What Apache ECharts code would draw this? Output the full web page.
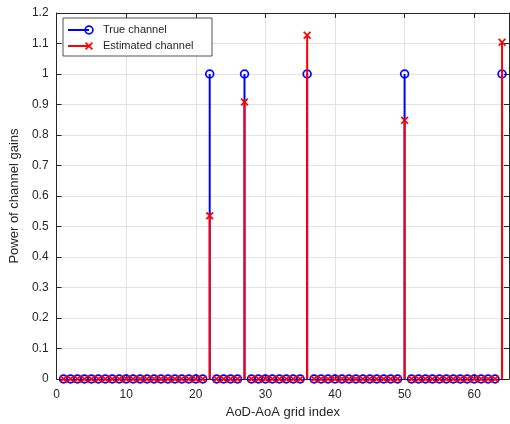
<!DOCTYPE html>
<html>
<head>
<meta charset="utf-8">
<script src="https://cdn.jsdelivr.net/npm/echarts@6/dist/echarts.min.js"></script>
<style>
html, body { margin: 0; padding: 0; background: #fff; }
#chart { width: 510px; height: 424px; }
</style>
</head>
<body>
<div id="chart"></div>
<script>
// stem plot: true vs estimated channel gains

var gridIndex = [1, 2, 3, 4, 5, 6, 7, 8, 9, 10, 11, 12, 13, 14, 15, 16,
    17, 18, 19, 20, 21, 22, 23, 24, 25, 26, 27, 28, 29, 30, 31, 32,
    33, 34, 35, 36, 37, 38, 39, 40, 41, 42, 43, 44, 45, 46, 47, 48,
    49, 50, 51, 52, 53, 54, 55, 56, 57, 58, 59, 60, 61, 62, 63, 64];

var trueGain = [0, 0, 0, 0, 0, 0, 0, 0, 0, 0, 0, 0, 0, 0, 0, 0,
    0, 0, 0, 0, 0, 1, 0, 0, 0, 0, 1, 0, 0, 0, 0, 0,
    0, 0, 0, 1, 0, 0, 0, 0, 0, 0, 0, 0, 0, 0, 0, 0,
    0, 1, 0, 0, 0, 0, 0, 0, 0, 0, 0, 0, 0, 0, 0, 1];

var estGain = [0, 0, 0, 0, 0, 0, 0, 0, 0, 0, 0, 0, 0, 0, 0, 0,
    0, 0, 0, 0, 0, 0.535, 0, 0, 0, 0, 0.908, 0, 0, 0, 0, 0,
    0, 0, 0, 1.127, 0, 0, 0, 0, 0, 0, 0, 0, 0, 0, 0, 0,
    0, 0.848, 0, 0, 0, 0, 0, 0, 0, 0, 0, 0, 0, 0, 0, 1.104];

var seriesNames = ['True channel', 'Estimated channel'];

var BLUE = '#0000ff';
var RED = '#ff0000';
var AXIS = '#262626';
var FONT = 'Liberation Sans, Arial, sans-serif';

function pairs(xs, ys) {
    var out = [];
    for (var i = 0; i < xs.length; i++) {
        out.push([xs[i], ys[i]]);
    }
    return out;
}

// marker shapes, used by the series and by the hand drawn legend
function circleMark(cx, cy, color, z) {
    return { type: 'circle', z: z || 0, shape: { cx: cx, cy: cy, r: 3.9 },
        style: { fill: 'none', stroke: color, lineWidth: 1.7 } };
}
function crossMark(cx, cy, color, z) {
    var s = 3.4;
    return { type: 'group', z: z || 0, children: [
        { type: 'line', z: z || 0, shape: { x1: cx - s, y1: cy - s, x2: cx + s, y2: cy + s },
            style: { stroke: color, lineWidth: 1.7 } },
        { type: 'line', z: z || 0, shape: { x1: cx - s, y1: cy + s, x2: cx + s, y2: cy - s },
            style: { stroke: color, lineWidth: 1.7 } }
    ] };
}

function stem(color, marker) {
    return function (params, api) {
        var x = api.value(0), y = api.value(1);
        var base = api.coord([x, 0]);
        var tip = api.coord([x, y]);
        var kids = [];
        if (y !== 0) {
            kids.push({ type: 'line',
                shape: { x1: base[0], y1: base[1], x2: tip[0], y2: tip[1] },
                style: { stroke: color, lineWidth: 2 } });
        }
        kids.push(marker(tip[0], tip[1], color));
        return { type: 'group', children: kids };
    };
}

function valueAxis(opts) {
    var a = {
        type: 'value',
        axisLine: { show: true, onZero: false, lineStyle: { color: AXIS, width: 1 } },
        axisTick: { show: true, inside: true, length: 5, lineStyle: { color: AXIS } },
        axisLabel: { color: AXIS, fontSize: 12, fontFamily: FONT, showMaxLabel: false, margin: 10 },
        splitLine: { show: true, lineStyle: { color: '#e2e2e2', width: 1 } }
    };
    for (var k in opts) a[k] = opts[k];
    return a;
}

// legend box drawn by hand (line with marker at its end, like the source figure)
var LX = 63, LY = 18, LZ = 100;
function legendItems() {
    var rows = [LY + 12, LY + 28];
    var colors = [BLUE, RED];
    var marks = [circleMark, crossMark];
    var out = [
        { type: 'rect', z: LZ, shape: { x: LX, y: LY, width: 149, height: 38 },
            style: { fill: '#ffffff', stroke: AXIS, lineWidth: 0.8 } }
    ];
    for (var i = 0; i < rows.length; i++) {
        out.push({ type: 'line', z: LZ + 1,
            shape: { x1: LX + 5, y1: rows[i], x2: LX + 26, y2: rows[i] },
            style: { stroke: colors[i], lineWidth: 2 } });
        out.push(marks[i](LX + 26, rows[i], colors[i], LZ + 1));
        out.push({ type: 'text', z: LZ + 1, x: LX + 40, y: rows[i],
            style: { text: seriesNames[i], fill: AXIS, fontSize: 11,
                fontFamily: FONT, verticalAlign: 'middle' } });
    }
    return out;
}

var chart = echarts.init(document.getElementById('chart'));

var option = {
    backgroundColor: '#fff',
    animation: false,
    grid: { left: 53, right: 1, top: 13, bottom: 45, containLabel: false },
    xAxis: [
        valueAxis({
            min: 0, max: 65, interval: 10, position: 'bottom',
            name: 'AoD-AoA grid index', nameLocation: 'middle', nameGap: 27,
            nameTextStyle: { color: AXIS, fontSize: 13, fontFamily: FONT }
        }),
        valueAxis({
            min: 0, max: 65, interval: 10, position: 'top',
            axisLabel: { show: false }, splitLine: { show: false }
        })
    ],
    yAxis: [
        valueAxis({
            min: 0, max: 1.2, interval: 0.1, position: 'left',
            axisLabel: { color: AXIS, fontSize: 12, fontFamily: FONT, margin: 8 },
            name: 'Power of channel gains', nameLocation: 'middle', nameGap: 35,
            nameTextStyle: { color: AXIS, fontSize: 13, fontFamily: FONT }
        }),
        valueAxis({
            min: 0, max: 1.2, interval: 0.1, position: 'right',
            axisLabel: { show: false }, splitLine: { show: false }
        })
    ],
    series: [
        {
            name: seriesNames[0], type: 'custom', xAxisIndex: 0, yAxisIndex: 0,
            data: pairs(gridIndex, trueGain),
            renderItem: stem(BLUE, circleMark)
        },
        {
            name: seriesNames[1], type: 'custom', xAxisIndex: 0, yAxisIndex: 0,
            data: pairs(gridIndex, estGain),
            renderItem: stem(RED, crossMark)
        }
    ],
    graphic: legendItems()
};

chart.setOption(option);
</script>
</body>
</html>
